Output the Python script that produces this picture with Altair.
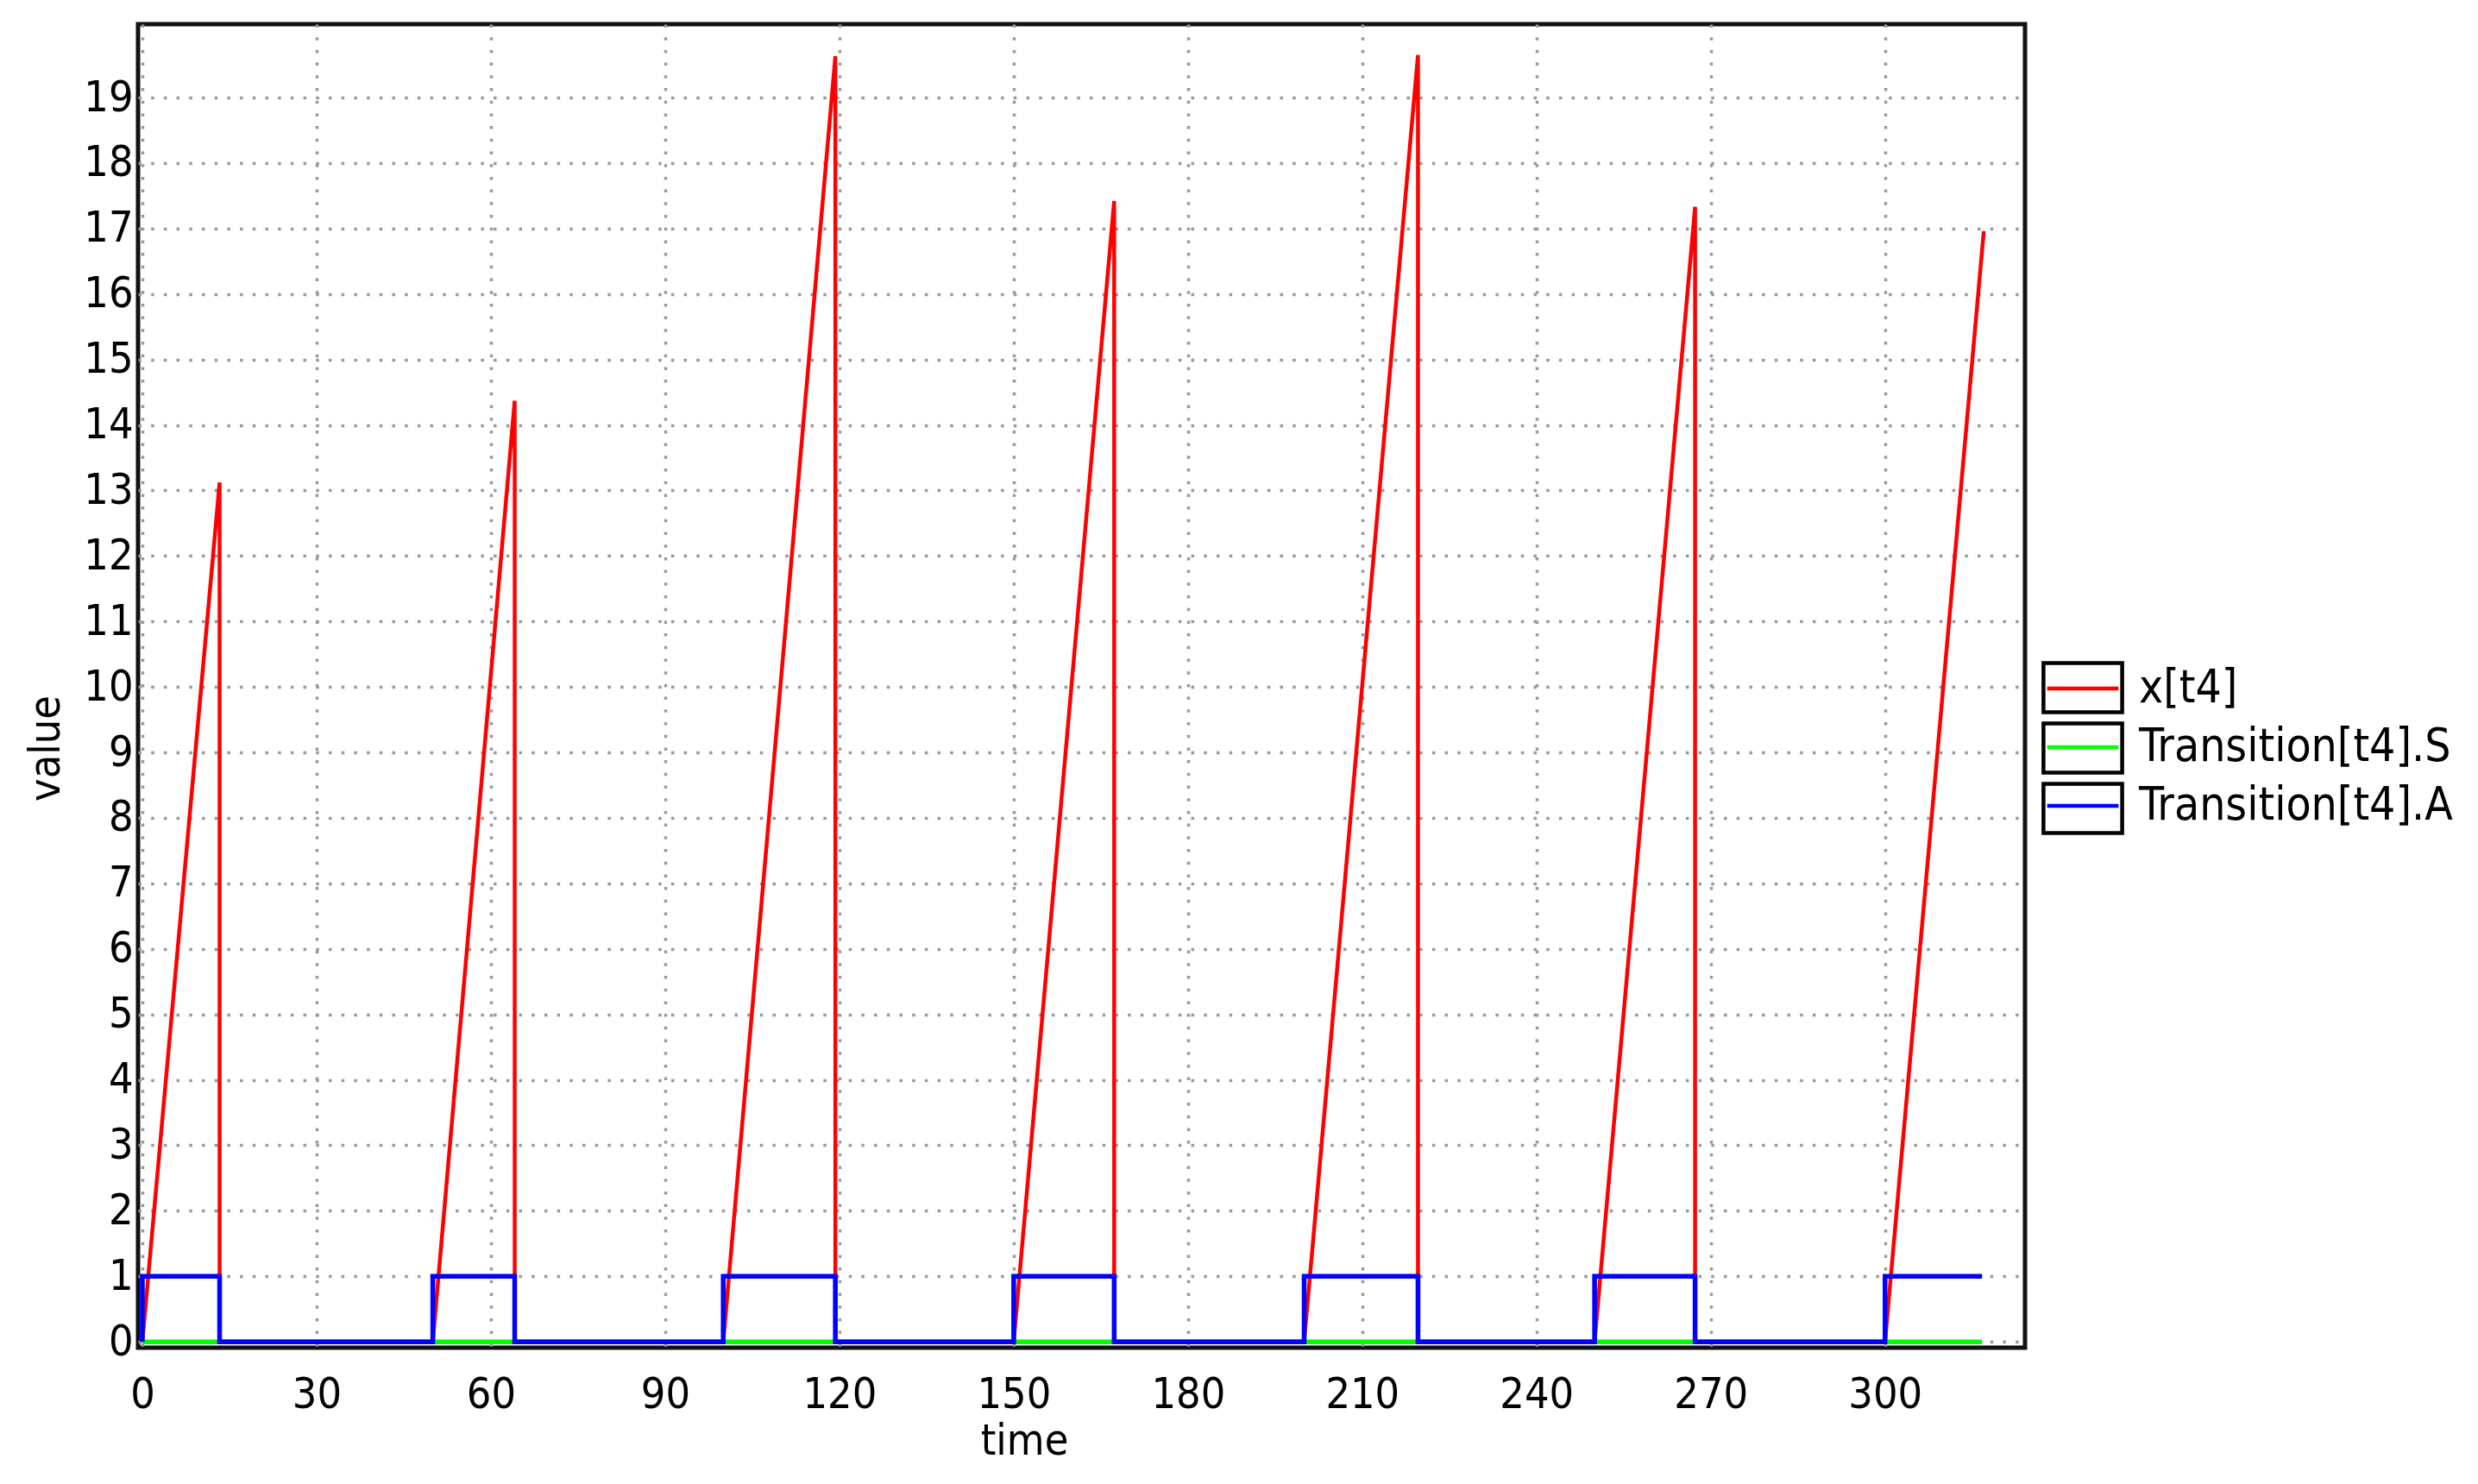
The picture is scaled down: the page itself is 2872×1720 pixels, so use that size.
import altair as alt
import pandas as pd

# ---- data ----
series_names = ["x[t4]", "Transition[t4].S", "Transition[t4].A"]
series_colors = ["#ff0000", "#00ff00", "#0000ff"]
box_names = ["box " + s for s in series_names]

red_t = [0, 13.3, 13.3, 50, 64.1, 64.1, 100, 119.3, 119.3, 150, 167.3, 167.3,
         200, 219.6, 219.6, 250, 267.3, 267.3, 300, 317.0]
red_v = [0, 13.12, 0, 0, 14.37, 0, 0, 19.63, 0, 0, 17.42, 0,
         0, 19.65, 0, 0, 17.33, 0, 0, 16.96]

green_t = [0, 316.7]
green_v = [0, 0]

blue_t = [0, 0, 13.3, 13.3, 50, 50, 64.1, 64.1, 100, 100, 119.3, 119.3,
          150, 150, 167.3, 167.3, 200, 200, 219.6, 219.6, 250, 250, 267.3, 267.3,
          300, 300, 316.7]
blue_v = [0, 1, 1, 0, 0, 1, 1, 0, 0, 1, 1, 0,
          0, 1, 1, 0, 0, 1, 1, 0, 0, 1, 1, 0,
          0, 1, 1]

x_ticks = [0, 30, 60, 90, 120, 150, 180, 210, 240, 270, 300]
y_ticks = list(range(0, 20))

FONT = "DejaVu Sans Condensed, DejaVu Sans"
FS = 50
LFS = 53


def frame(i, t, v):
    return pd.DataFrame({"time": t, "value": v, "series": series_names[i],
                         "box": box_names[i], "idx": range(len(t))})


df_red = frame(0, red_t, red_v)
df_green = frame(1, green_t, green_v)
df_blue = frame(2, blue_t, blue_v)
df_all = pd.concat([df_red, df_green, df_blue], ignore_index=True)

x_enc = alt.X("time:Q", scale=alt.Scale(domain=[-0.74, 324.1], nice=False, zero=False),
              axis=alt.Axis(values=x_ticks, title="time", titleX=1027, titleY=108,
                            titleAlign="center", titleBaseline="middle",
                            labelPadding=29))
y_enc = alt.Y("value:Q", scale=alt.Scale(domain=[-0.09, 20.12], nice=False, zero=False),
              axis=alt.Axis(values=y_ticks, title="value", titleX=-107, titleY=839,
                            titleAlign="center", titleBaseline="middle",
                            labelPadding=6))

LEG_X = 2223
LEG_Y = 738
SYM = 3249

color_legend = alt.Legend(orient="none", legendX=LEG_X, legendY=LEG_Y + 1, title=None,
                          symbolType="M-1.45,0H1.45", symbolSize=SYM, symbolStrokeWidth=4.5,
                          labelFontSize=LFS, labelFont=FONT, labelColor="#000",
                          labelLimit=1000,
                          labelOffset=34, rowPadding=10, padding=0)
shape_legend = alt.Legend(orient="none", legendX=LEG_X, legendY=LEG_Y, title=None,
                          symbolSize=SYM, symbolStrokeWidth=4.5, symbolStrokeColor="#000",
                          symbolFillColor="transparent", symbolOpacity=1,
                          labelExpr="''", labelFontSize=LFS,
                          labelOffset=34, rowPadding=-6, padding=0)

color_scale = alt.Scale(domain=series_names, range=series_colors)


def line_layer(df, width):
    return alt.Chart(df).mark_line(strokeWidth=width, clip=True).encode(
        x=x_enc, y=y_enc,
        color=alt.Color("series:N", scale=color_scale, legend=color_legend),
        order="idx:Q",
    )


red_layer = line_layer(df_red, 4.5)
green_layer = line_layer(df_green, 5.5)
blue_layer = line_layer(df_blue, 5.5)

box_layer = alt.Chart(df_all).mark_point(opacity=0).encode(
    x=x_enc, y=y_enc,
    shape=alt.Shape("box:N",
                    scale=alt.Scale(domain=box_names,
                                    range=["M-1.6,-1H1.6V1H-1.6Z"] * 3),
                    legend=shape_legend),
)

chart = alt.layer(red_layer, green_layer, blue_layer, box_layer).properties(
    width=2187, height=1534,
    autosize=alt.AutoSizeParams(type="none"),
    padding={"left": 152, "top": 20, "right": 500, "bottom": 140},
    background="white",
).configure_view(
    stroke="#111", strokeWidth=5
).configure_axis(
    labelFont=FONT, labelFontSize=FS, labelColor="#000",
    titleFont=FONT, titleFontSize=FS, titleColor="#000", titleFontWeight="normal",
    ticks=False, domain=False,
    grid=True, gridColor="#9a9a9a", gridDash=[3.5, 11.2], gridWidth=3.5, gridOpacity=1,
)

chart.save("out.html", embed_options={"renderer": "svg", "actions": False})
